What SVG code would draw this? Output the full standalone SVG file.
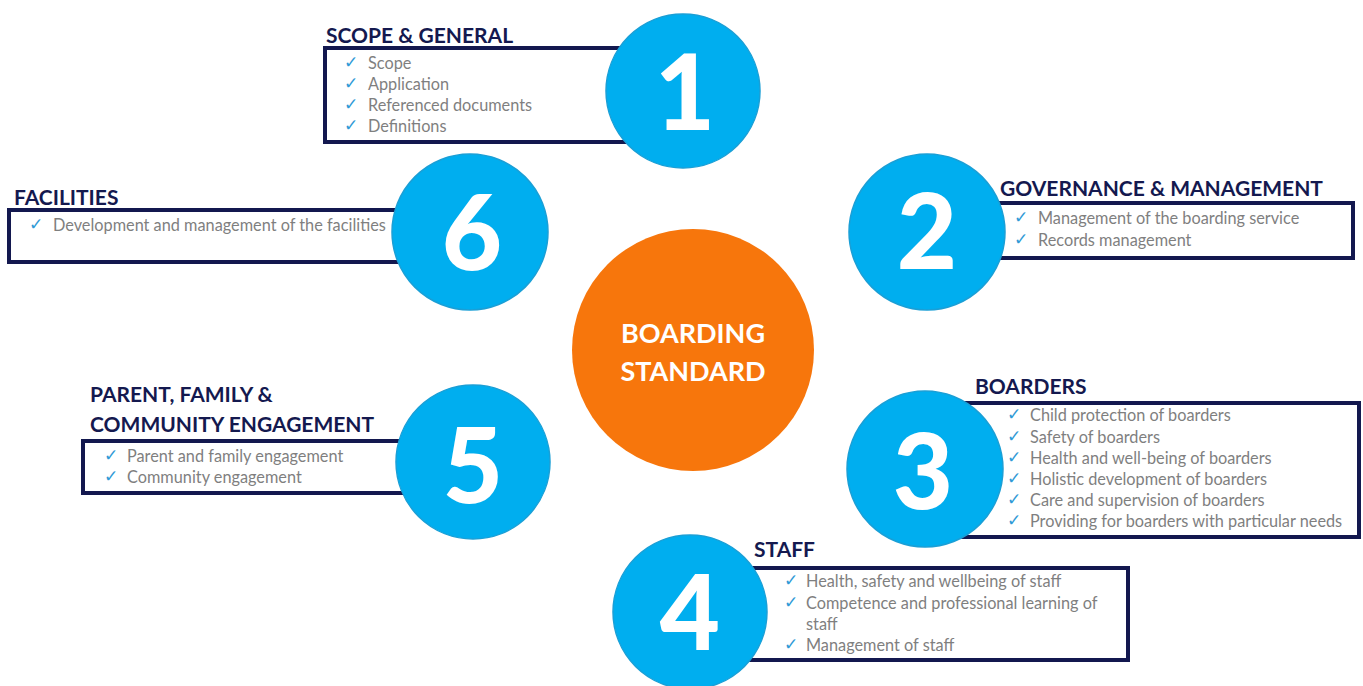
<svg xmlns="http://www.w3.org/2000/svg" width="1363" height="686" viewBox="0 0 1363 686">
<style>
.box{fill:#fff;stroke:#13184f;stroke-width:4}
.title{font-family:Lato,"Open Sans",sans-serif;font-weight:700;font-size:21px;fill:#14194f}
.item{font-family:Lato,"Open Sans",sans-serif;font-size:16.3px;fill:#7f7f7f}
.chk{font-family:"DejaVu Sans",sans-serif;font-size:17px;font-weight:700;fill:#2f9ad6}
.num{fill:#00aeef;stroke:#1a9fd6;stroke-width:1.5}
.digit{font-family:Lato,"Open Sans",sans-serif;font-weight:900;font-size:104px;fill:#fff;text-anchor:middle}
.center{font-family:Lato,"Open Sans",sans-serif;font-weight:700;font-size:27px;fill:#fff;text-anchor:middle}
</style>
<rect width="1363" height="686" fill="#fff"/>
<g id="connectors"/>
<g id="node-1">
<text class="title" x="326" y="43">SCOPE &amp; GENERAL</text>
<rect class="box" x="325" y="48" width="320" height="94"/>
<text class="chk" x="344" y="68">✓</text><text class="item" x="368" y="69">Scope</text>
<text class="chk" x="344" y="89">✓</text><text class="item" x="368" y="90">Application</text>
<text class="chk" x="344" y="110">✓</text><text class="item" x="368" y="111">Referenced documents</text>
<text class="chk" x="344" y="131">✓</text><text class="item" x="368" y="132">Definitions</text>
<circle class="num" cx="683" cy="91" r="77"/>
<text class="digit" x="685" y="130">1</text>
</g>
<g id="node-6">
<text class="title" x="14" y="205">FACILITIES</text>
<rect class="box" x="9" y="210" width="415" height="52"/>
<text class="chk" x="29" y="230">✓</text><text class="item" x="53" y="231">Development and management of the facilities</text>
<circle class="num" cx="470" cy="232" r="78"/>
<text class="digit" x="472" y="270">6</text>
</g>
<g id="node-2">
<text class="title" x="1000" y="196">GOVERNANCE &amp; MANAGEMENT</text>
<rect class="box" x="985" y="203" width="368" height="55"/>
<text class="chk" x="1014" y="223">✓</text><text class="item" x="1038" y="224">Management of the boarding service</text>
<text class="chk" x="1014" y="245">✓</text><text class="item" x="1038" y="246">Records management</text>
<circle class="num" cx="927" cy="232" r="78"/>
<text class="digit" x="927" y="269">2</text>
</g>
<g id="node-5">
<text class="title" x="90" y="402">PARENT, FAMILY &amp;</text>
<text class="title" x="90" y="432">COMMUNITY ENGAGEMENT</text>
<rect class="box" x="83" y="441" width="350" height="52"/>
<text class="chk" x="104" y="461">✓</text><text class="item" x="127" y="462">Parent and family engagement</text>
<text class="chk" x="104" y="482">✓</text><text class="item" x="127" y="483">Community engagement</text>
<circle class="num" cx="473" cy="462" r="77"/>
<text class="digit" x="473" y="503">5</text>
</g>
<g id="node-3">
<text class="title" x="975" y="394">BOARDERS</text>
<rect class="box" x="950" y="403" width="409" height="134"/>
<text class="chk" x="1007" y="420">✓</text><text class="item" x="1030" y="421">Child protection of boarders</text>
<text class="chk" x="1007" y="442">✓</text><text class="item" x="1030" y="443">Safety of boarders</text>
<text class="chk" x="1007" y="463">✓</text><text class="item" x="1030" y="464">Health and well-being of boarders</text>
<text class="chk" x="1007" y="484">✓</text><text class="item" x="1030" y="485">Holistic development of boarders</text>
<text class="chk" x="1007" y="505">✓</text><text class="item" x="1030" y="506">Care and supervision of boarders</text>
<text class="chk" x="1007" y="526">✓</text><text class="item" x="1030" y="527">Providing for boarders with particular needs</text>
<circle class="num" cx="925" cy="469" r="78"/>
<text class="digit" x="923" y="509">3</text>
</g>
<g id="node-4">
<text class="title" x="754" y="557">STAFF</text>
<rect class="box" x="740" y="568" width="388" height="92"/>
<text class="chk" x="784" y="586">✓</text><text class="item" x="806" y="587">Health, safety and wellbeing of staff</text>
<text class="chk" x="784" y="608">✓</text><text class="item" x="806" y="609">Competence and professional learning of</text>
<text class="item" x="806" y="630">staff</text>
<text class="chk" x="784" y="650">✓</text><text class="item" x="806" y="651">Management of staff</text>
<circle class="num" cx="690" cy="612" r="77"/>
<text class="digit" x="690" y="650">4</text>
</g>
<g id="node-center">
<circle cx="693" cy="350" r="121" fill="#f7760c"/>
<text class="center" x="693" y="343">BOARDING</text>
<text class="center" x="693" y="381">STANDARD</text>
</g>
</svg>
